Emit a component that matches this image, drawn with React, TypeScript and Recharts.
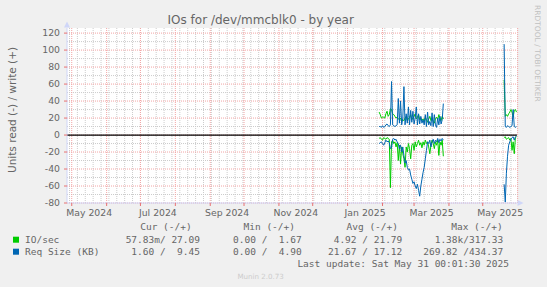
import React from 'react';
import { LineChart, Line, XAxis, YAxis, CartesianGrid, ReferenceLine } from 'recharts';

const DAY = 86400000;
const X_START = Date.UTC(2024, 3, 26, 19);
const X_END = Date.UTC(2025, 4, 31, 10);

// month grid (red) and the months that carry a label
const monthStarts = [
  '2024-05-01', '2024-06-01', '2024-07-01', '2024-08-01', '2024-09-01', '2024-10-01', '2024-11-01',
  '2024-12-01', '2025-01-01', '2025-02-01', '2025-03-01', '2025-04-01', '2025-05-01', '2025-06-01',
];
const labelMonths = ['2024-05', '2024-07', '2024-09', '2024-11', '2025-01', '2025-03', '2025-05'];
const monthLabels = ['May 2024', 'Jul 2024', 'Sep 2024', 'Nov 2024', 'Jan 2025', 'Mar 2025', 'May 2025'];
const firstMonday = '2024-04-29';

const yTicks = [-80, -60, -40, -20, 0, 20, 40, 60, 80, 100, 120];
const yMinor = [-70, -50, -30, -10, 10, 30, 50, 70, 90, 110];

// daily samples, first block starts 2025-01-29
const blockAStart = '2025-01-29';
const ioWriteA = [27, 24, 20, 21, 21, 20, 25, 28, 22, 24, 31, 30, 25, 24, 22, 20, 21, 19, 18, 20, 16, 18, 17, 20, 22, 17, 19, 21, 24, 18, 20, 22, 25, 19, 21, 24, 18, 20, 17, 19, 16, 21, 18, 15, 19, 22, 17, 20, 16, 14, 19, 21, 18, 24, 20, 17, 22, 19];
const reqWriteA = [10, 10, 9, 11, 9, 10, 12, 13, 11, 10, 12, 63, 12, 11, 10, 11, 12, 43, 14, 40, 12, 20, 57, 12, 25, 14, 33, 12, 29, 15, 28, 13, 20, 33, 12, 25, 13, 22, 14, 18, 12, 24, 10, 27, 12, 16, 11, 26, 10, 24, 12, 9, 20, 12, 22, 13, 18, 37];
const ioReadA = [-4, -3, -5, -6, -3, -4, -5, -3, -4, -5, -62, -8, -6, -10, -8, -14, -9, -30, -12, -34, -14, -22, -28, -38, -14, -20, -10, -16, -28, -12, -10, -18, -8, -14, -10, -6, -12, -9, -15, -8, -12, -6, -10, -8, -14, -22, -12, -6, -10, -16, -8, -12, -6, -24, -8, -12, -6, -25];
const reqReadA = [-10, -9, -8, -10, -12, -9, -6, -8, -7, -9, -16, -15, -5, -4, -6, -5, -8, -10, -16, -12, -20, -14, -24, -33, -30, -38, -41, -40, -47, -52, -57, -55, -60, -63, -58, -65, -72, -60, -52, -44, -38, -28, -18, -8, -10, -6, -14, -8, -5, -10, -6, -8, -4, -9, -5, -7, -4, -6];

// second block starts 2025-05-20
const blockBStart = '2025-05-20';
const ioWriteB = [65, 22, 24, 22, 25, 27, 30, 27, 21, 29, 30, 27];
const reqWriteB = [107, 10, 9, 11, 10, 9, 10, 11, 30, 10, 9, 10];
const ioReadB = [-3, -2, -5, -4, -3, -6, -4, -18, -8, -22, -3, -2];
const reqReadB = [-58, -79, -45, -25, -12, -8, -5, -3, -2, -6, -2, -1];
const gapDay = '2025-04-20';

const ts = (s: string) => Date.parse(s.length === 7 ? s + '-01T00:00:00Z' : s + 'T00:00:00Z');

function block(start: string, ioW: number[], rqW: number[], ioR: number[], rqR: number[]) {
  const t0 = ts(start);
  return ioW.map((_, i) => ({ t: t0 + i * DAY, ioW: ioW[i], rqW: rqW[i], ioR: ioR[i], rqR: rqR[i] }));
}

const data = [
  ...block(blockAStart, ioWriteA, reqWriteA, ioReadA, reqReadA),
  { t: ts(gapDay), ioW: null, rqW: null, ioR: null, rqR: null },
  ...block(blockBStart, ioWriteB, reqWriteB, ioReadB, reqReadB),
];

const monthTs = monthStarts.map(ts);
const labelTs = labelMonths.map((m) => {
  const i = monthStarts.indexOf(m + '-01');
  return (monthTs[i] + monthTs[i + 1]) / 2;
});
const weekTs: number[] = [];
for (let t = ts(firstMonday); t < X_END; t += 7 * DAY) weekTs.push(t);
const xTicks = [...monthTs.filter((t) => t <= X_END), ...labelTs].sort((a, b) => a - b);

const FONT = 'DejaVu Sans';
const MONO = 'DejaVu Sans Mono';
const INK = '#666666';
const AXIS = '#cfd6f8';

function MonthTick(props: any) {
  const { x, y, payload } = props;
  const i = labelTs.indexOf(payload.value);
  if (i >= 0) {
    return (
      <text x={x} y={y + 12.5} textAnchor="middle" fill={INK} fontSize={9.3} fontFamily={FONT}>
        {monthLabels[i]}
      </text>
    );
  }
  return <line x1={x} x2={x} y1={y} y2={y + 3} stroke="#e87070" />;
}

function Mono(props: { x: number; y: number; end?: boolean; children: string }) {
  return (
    <text x={props.x} y={props.y} textAnchor={props.end ? 'end' : 'start'} xmlSpace="preserve" style={{ whiteSpace: 'pre' }}>
      {props.children}
    </text>
  );
}

export default function App() {
  return (
    <div style={{ position: 'absolute', left: 0, top: 0, width: 547, height: 287, background: '#f0f0f0', overflow: 'hidden' }}>
      <div style={{ position: 'absolute', left: 0, top: 0 }}>
        <LineChart width={547} height={287} data={data} margin={{ top: 28, right: 30, bottom: 0, left: 0 }}>
          <CartesianGrid fill="#ffffff" stroke="#cccccc" strokeDasharray="1 1" horizontalValues={yMinor} verticalValues={weekTs} />
          <CartesianGrid fill="none" stroke="#f2a4a4" strokeDasharray="1 1" horizontalValues={yTicks} verticalValues={monthTs} />
          <XAxis
            dataKey="t"
            type="number"
            domain={[X_START, X_END]}
            allowDataOverflow
            ticks={xTicks}
            interval={0}
            tickLine={false}
            tickSize={0}
            tickMargin={0}
            tick={<MonthTick />}
            axisLine={{ stroke: AXIS }}
            height={84}
          />
          <YAxis
            type="number"
            domain={[-80, 126]}
            allowDataOverflow
            ticks={yTicks}
            interval={0}
            width={67}
            tickSize={3}
            tickMargin={4}
            tickLine={{ stroke: '#e87070' }}
            axisLine={{ stroke: AXIS }}
            tick={{ fill: INK, fontSize: 9.3, fontFamily: FONT }}
          />
          <ReferenceLine y={0} stroke="#000000" strokeWidth={1.2} />
          <Line type="linear" dataKey="ioW" stroke="#00cc00" strokeWidth={1} dot={false} isAnimationActive={false} />
          <Line type="linear" dataKey="ioR" stroke="#00cc00" strokeWidth={1} dot={false} isAnimationActive={false} />
          <Line type="linear" dataKey="rqW" stroke="#0066b3" strokeWidth={1} dot={false} isAnimationActive={false} />
          <Line type="linear" dataKey="rqR" stroke="#0066b3" strokeWidth={1} dot={false} isAnimationActive={false} />
        </LineChart>
      </div>
      <svg width={547} height={287} style={{ position: 'absolute', left: 0, top: 0, pointerEvents: 'none' }}>
        <polygon points="67,21.5 64,27.5 70,27.5" fill={AXIS} />
        <polygon points="523.5,203 517.5,200 517.5,206" fill={AXIS} />
        <text x={260.7} y={23.5} textAnchor="middle" fill={INK} fontSize={12} fontFamily={FONT}>
          IOs for /dev/mmcblk0 - by year
        </text>
        <text transform="translate(15.5,110) rotate(-90)" textAnchor="middle" fill={INK} fontSize={10.5} fontFamily={FONT}>
          Units read (-) / write (+)
        </text>
        <text transform="translate(534.7,5) rotate(90)" fill="#c0c0c0" fontSize={7.5} fontFamily={FONT}>
          RRDTOOL / TOBI OETIKER
        </text>
        <g fontFamily={MONO} fontSize={9.5} fill={INK}>
          <Mono x={191.7} y={230.3} end>Cur (-/+)</Mono>
          <Mono x={295} y={230.3} end>Min (-/+)</Mono>
          <Mono x={398} y={230.3} end>Avg (-/+)</Mono>
          <Mono x={502.7} y={230.3} end>Max (-/+)</Mono>

          <rect x={13} y={236.7} width={6} height={6} fill="#00cc00" />
          <Mono x={25} y={243}>IO/sec</Mono>
          <Mono x={200} y={243} end>57.83m/ 27.09</Mono>
          <Mono x={301.7} y={243} end>0.00 /  1.67</Mono>
          <Mono x={402.3} y={243} end>4.92 / 21.79</Mono>
          <Mono x={503.3} y={243} end>1.38k/317.33</Mono>

          <rect x={13} y={248.7} width={6} height={6} fill="#0066b3" />
          <Mono x={25} y={255}>Req Size (KB)</Mono>
          <Mono x={200} y={255} end>1.60 /  9.45</Mono>
          <Mono x={301.7} y={255} end>0.00 /  4.90</Mono>
          <Mono x={402.3} y={255} end>21.67 / 17.12</Mono>
          <Mono x={503.3} y={255} end>269.82 /434.37</Mono>

          <Mono x={509} y={266.6} end>Last update: Sat May 31 00:01:30 2025</Mono>
        </g>
        <text x={260.7} y={278.5} textAnchor="middle" fill="#cccccc" fontSize={7.1} fontFamily={FONT}>
          Munin 2.0.73
        </text>
      </svg>
    </div>
  );
}
